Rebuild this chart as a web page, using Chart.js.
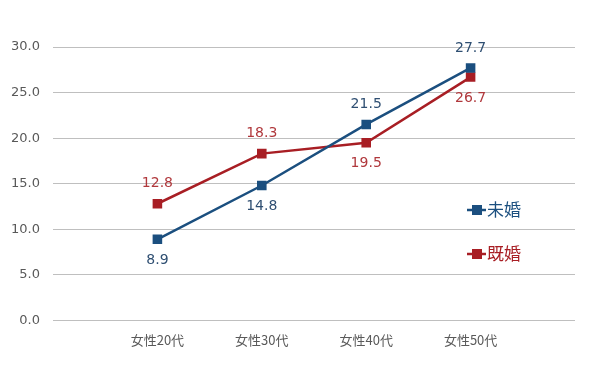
<!DOCTYPE html>
<html>
<head>
<meta charset="utf-8">
<script src="https://cdn.jsdelivr.net/npm/chart.js@4"></script>
<style>
  html, body { margin: 0; padding: 0; background: #fff; }
  #wrap { width: 600px; height: 375px; position: relative; }
</style>
</head>
<body>
<div id="wrap"><canvas id="chart"></canvas></div>
<script>
// data
const categories = ['女性20代', '女性30代', '女性40代', '女性50代'];
const unmarried = [8.9, 14.8, 21.5, 27.7];
const married = [12.8, 18.3, 19.5, 26.7];
const yTicks = [0, 5, 10, 15, 20, 25, 30];

// label placement per point: 'below' or 'above'
const unmarriedPos = ['below', 'below', 'above', 'above'];
const marriedPos = ['above', 'above', 'below', 'below'];

const blue = '#1b4f7f';
const red = '#a81e24';

//..pad with an empty slot before and after so points sit on the grid like the original
const labels = [''].concat(categories, ['']);
const pad = arr => [null].concat(arr, [null]);

//..draw value labels next to each point
const valueLabels = {
    id: 'valueLabels',
    afterDatasetsDraw(chart) {
        const ctx = chart.ctx;
        ctx.save();
        ctx.font = '14px "DejaVu Sans", Verdana, sans-serif';
        ctx.textAlign = 'center';
        ctx.textBaseline = 'middle';
        chart.data.datasets.forEach((ds, i) => {
            const meta = chart.getDatasetMeta(i);
            meta.data.forEach((pt, j) => {
                const v = ds.data[j];
                if (v === null) return;
                const pos = ds.labelPos[j - 1];
                ctx.fillStyle = ds.labelColor;
                const dy = pos === 'above' ? -20 : 21;
                ctx.fillText(v.toFixed(1), pt.x, pt.y + dy);
            });
        });
        ctx.restore();
    }
};

//..legend inside the empty right slot
const sideLegend = {
    id: 'sideLegend',
    afterDraw(chart) {
        const ctx = chart.ctx;
        const items = [
            { text: '未婚', color: blue, y: 210 },
            { text: '既婚', color: red, y: 254 }
        ];
        ctx.save();
        ctx.font = '17px "Noto Sans CJK JP", sans-serif';
        ctx.textBaseline = 'middle';
        items.forEach(it => {
            ctx.strokeStyle = it.color;
            ctx.lineWidth = 2.5;
            ctx.beginPath();
            ctx.moveTo(467, it.y);
            ctx.lineTo(486, it.y);
            ctx.stroke();
            ctx.fillStyle = it.color;
            ctx.fillRect(472, it.y - 5, 10, 10);
            ctx.fillText(it.text, 487, it.y);
        });
        ctx.restore();
    }
};

new Chart(document.getElementById('chart'), {
    type: 'line',
    data: {
        labels: labels,
        datasets: [{
            label: '未婚',
            data: pad(unmarried),
            borderColor: blue,
            backgroundColor: blue,
            borderWidth: 2.5,
            pointStyle: 'rect',
            pointRadius: 5,
            labelPos: unmarriedPos,
            labelColor: '#2f4f72'
        }, {
            label: '既婚',
            data: pad(married),
            borderColor: red,
            backgroundColor: red,
            borderWidth: 2.5,
            pointStyle: 'rect',
            pointRadius: 5,
            labelPos: marriedPos,
            labelColor: '#b0383c'
        }]
    },
    options: {
        responsive: true,
        maintainAspectRatio: false,
        animation: false,
        layout: { padding: { top: 47, right: 25, left: 0, bottom: 23 } },
        scales: {
            x: {
                offset: false,
                grid: { display: false },
                border: { display: false },
                ticks: {
                    autoSkip: false,
                    maxRotation: 0,
                    color: '#595959',
                    padding: 4,
                    font: { size: 13, family: '"Noto Sans CJK JP", "DejaVu Sans", sans-serif' }
                }
            },
            y: {
                min: 0,
                max: 30,
                afterBuildTicks: axis => { axis.ticks = yTicks.map(v => ({ value: v })); },
                afterFit: axis => { axis.width = 53; },
                grid: { color: '#bfbfbf', lineWidth: 1, drawTicks: false },
                border: { display: false },
                ticks: {
                    color: '#595959',
                    padding: 13,
                    font: { size: 13, family: '"DejaVu Sans", Verdana, sans-serif' },
                    callback: v => v.toFixed(1)
                }
            }
        },
        plugins: {
            legend: { display: false },
            tooltip: { enabled: false }
        }
    },
    plugins: [valueLabels, sideLegend]
});
</script>
</body>
</html>
